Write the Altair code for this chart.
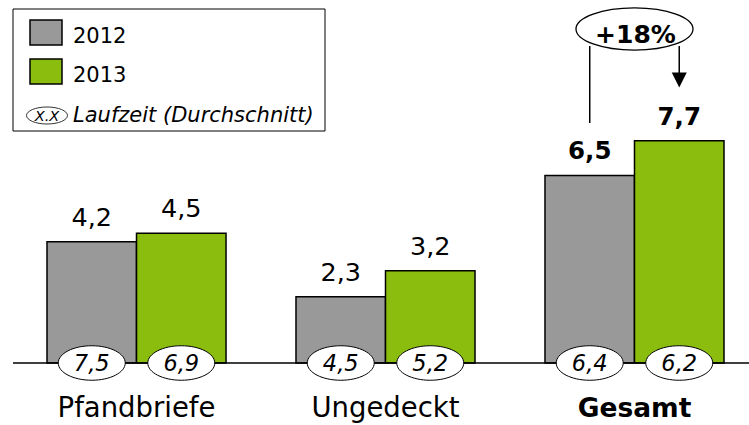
import altair as alt
import pandas as pd

# Emissionsvolumen (Mrd. EUR) und durchschnittliche Laufzeit (Jahre)
categories = ["Pfandbriefe", "Ungedeckt", "Gesamt"]
years = ["2012", "2013"]
volume_2012 = [4.2, 2.3, 6.5]
volume_2013 = [4.5, 3.2, 7.7]
term_2012 = [7.5, 4.5, 6.4]
term_2013 = [6.9, 5.2, 6.2]
highlight = "Gesamt"
growth_text = "+18%"
term_legend_symbol = "X.X"
term_legend_text = "Laufzeit (Durchschnitt)"

GRAY = "#999999"
GREEN = "#8BBD0F"
FONT = "DejaVu Sans"


def de(v):
    return f"{v:.1f}".replace(".", ",")


def ellipse_path(ry):
    # unit-width ellipse for custom point shapes (x spans -1..1)
    return f"M -1 0 A 1 {ry} 0 1 1 1 0 A 1 {ry} 0 1 1 -1 0 Z"


rows = []
for yr, vols, terms in zip(years, [volume_2012, volume_2013], [term_2012, term_2013]):
    for cat, v, t in zip(categories, vols, terms):
        rows.append(dict(category=cat, year=yr, value=v, label=de(v),
                         term=t, term_label=de(t), zero=0.0))
bars = pd.DataFrame(rows)
cats = pd.DataFrame({"category": categories, "zero": [0.0] * len(categories)})
legend_df = pd.DataFrame({"year": years})
one = pd.DataFrame({"a": [0]})

x_scale = alt.Scale(domain=categories, range=[47, 724], paddingInner=0.281, paddingOuter=0)
y_scale = alt.Scale(domain=[-2.149, 12.582], nice=False, zero=False)
X = alt.X("category:N", scale=x_scale, axis=None)
XO = alt.XOffset("year:N", scale=alt.Scale(domain=years, paddingInner=0, paddingOuter=0))
color_scale = alt.Scale(domain=years, range=[GRAY, GREEN])
COLOR = alt.Color("year:N", scale=color_scale, legend=None)

base = alt.Chart(bars)

bar_layer = base.mark_bar(stroke="black", strokeWidth=1.5).encode(
    x=X, xOffset=XO,
    y=alt.Y("value:Q", scale=y_scale, axis=None),
    y2=alt.Y2("zero:Q"),
    color=COLOR,
)

baseline = alt.Chart(one).mark_rule(color="black", strokeWidth=1.5).encode(
    x=alt.value(13), x2=alt.value(749),
    y=alt.Y("a:Q", scale=y_scale, axis=None),
)

term_ellipse = base.mark_point(
    shape=ellipse_path(0.515), size=67 ** 2, filled=True, fill="white",
    stroke="black", strokeWidth=1, opacity=1,
).encode(x=X, xOffset=XO, y=alt.Y("zero:Q", scale=y_scale))

term_text = base.mark_text(
    font=FONT, fontSize=22.5, fontStyle="italic", baseline="alphabetic", dy=8.5, color="black"
).encode(x=X, xOffset=XO, y=alt.Y("zero:Q", scale=y_scale), text="term_label:N")

value_text = base.transform_filter(alt.datum.category != highlight).mark_text(
    font=FONT, fontSize=25.5, baseline="alphabetic", dy=-16, color="black"
).encode(x=X, xOffset=XO, y=alt.Y("value:Q", scale=y_scale), text="label:N")

value_text_bold = base.transform_filter(alt.datum.category == highlight).mark_text(
    font=FONT, fontSize=24.5, fontWeight="bold", baseline="alphabetic", dy=-16, color="black"
).encode(x=X, xOffset=XO, y=alt.Y("value:Q", scale=y_scale), text="label:N")

cat_text = alt.Chart(cats).transform_filter(alt.datum.category != highlight).mark_text(
    font=FONT, fontSize=27.5, baseline="alphabetic", dy=54, color="black"
).encode(x=X, y=alt.Y("zero:Q", scale=y_scale), text="category:N")

cat_text_bold = alt.Chart(cats).transform_filter(alt.datum.category == highlight).mark_text(
    font=FONT, fontSize=26.5, fontWeight="bold", baseline="alphabetic", dy=54, color="black"
).encode(x=X, y=alt.Y("zero:Q", scale=y_scale), text="category:N")

# growth annotation above the total
hl = alt.Chart(cats).transform_filter(alt.datum.category == highlight)
growth_ellipse = hl.mark_point(
    shape=ellipse_path(0.36), size=117 ** 2, filled=True, fill="white",
    stroke="black", strokeWidth=1.3, opacity=1,
).encode(x=X, y=alt.value(29))
growth_label = hl.mark_text(
    font=FONT, fontSize=25, fontWeight="bold", baseline="alphabetic", dx=1, color="black"
).encode(x=X, y=alt.value(43), text=alt.value(growth_text))

hl_bars = base.transform_filter(alt.datum.category == highlight)
left_line = hl_bars.transform_filter(alt.datum.year == years[0]).mark_rule(
    color="black", strokeWidth=1.5
).encode(x=X, xOffset=XO, y=alt.value(46), y2=alt.value(123))
right_line = hl_bars.transform_filter(alt.datum.year == years[1]).mark_rule(
    color="black", strokeWidth=1.5
).encode(x=X, xOffset=XO, y=alt.value(46), y2=alt.value(74))
arrow_head = hl_bars.transform_filter(alt.datum.year == years[1]).mark_point(
    shape="M -1 -1 L 1 -1 L 0 1 Z", size=15 ** 2, filled=True, color="black", opacity=1
).encode(x=X, xOffset=XO, y=alt.value(80))

# legend box
legend_box = alt.Chart(one).mark_rect(
    fillOpacity=0, stroke="black", strokeWidth=1
).encode(x=alt.value(13), x2=alt.value(325), y=alt.value(9), y2=alt.value(131))

legend_layers = [legend_box]
for i, yr in enumerate(years):
    item = alt.Chart(legend_df).transform_filter(alt.datum.year == yr)
    legend_layers.append(item.mark_rect(stroke="black", strokeWidth=1.5).encode(
        x=alt.value(30), x2=alt.value(62),
        y=alt.value(20 + 39 * i), y2=alt.value(45 + 39 * i),
        fill=alt.Fill("year:N", scale=color_scale, legend=None),
    ))
    legend_layers.append(item.mark_text(
        font=FONT, fontSize=21, align="left", baseline="alphabetic", color="black"
    ).encode(x=alt.value(73), y=alt.value(43 + 39 * i), text="year:N"))

legend_layers.append(alt.Chart(one).mark_point(
    shape=ellipse_path(0.415), size=41 ** 2, filled=True, fill="white",
    stroke="black", strokeWidth=0.8, opacity=1,
).encode(x=alt.value(47), y=alt.value(115.5)))
legend_layers.append(alt.Chart(one).mark_text(
    font=FONT, fontSize=14.5, fontStyle="italic", baseline="alphabetic", color="black"
).encode(x=alt.value(47), y=alt.value(120.5), text=alt.value(term_legend_symbol)))
legend_layers.append(alt.Chart(one).mark_text(
    font=FONT, fontSize=21, fontStyle="italic", align="left", baseline="alphabetic", color="black"
).encode(x=alt.value(73), y=alt.value(122), text=alt.value(term_legend_text)))

chart = alt.layer(
    bar_layer, baseline, term_ellipse, term_text, value_text, value_text_bold,
    cat_text, cat_text_bold, growth_ellipse, growth_label,
    left_line, right_line, arrow_head, *legend_layers,
).properties(
    width=749, height=425,
    autosize=alt.AutoSizeParams(type="none"),
    padding=0, background="white",
).configure_view(stroke=None)

chart.save("out.html", embed_options={"renderer": "svg", "actions": False})
